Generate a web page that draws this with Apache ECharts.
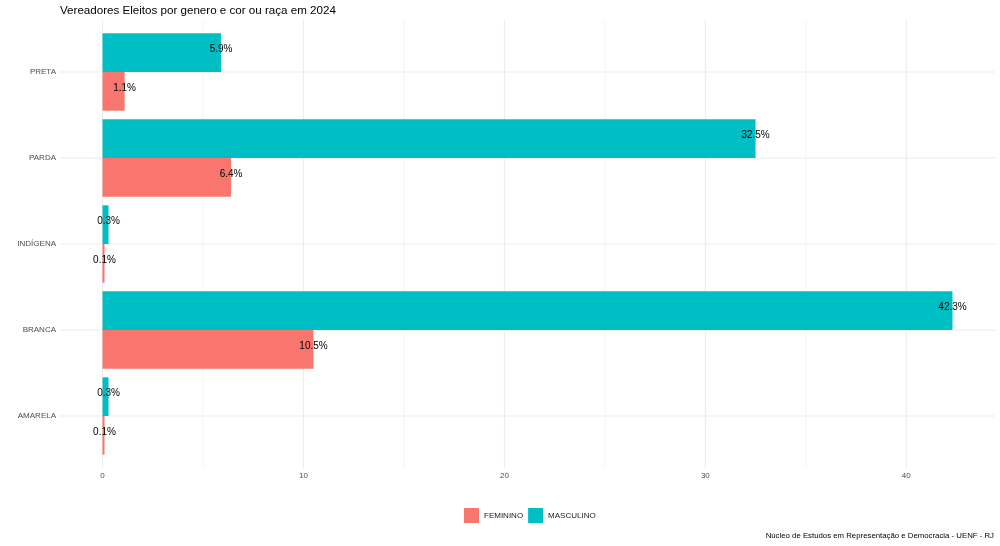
<!DOCTYPE html>
<html>
<head>
<meta charset="utf-8">
<script src="https://cdn.jsdelivr.net/npm/echarts@6/dist/echarts.min.js"></script>
<style>html,body{margin:0;padding:0;background:#fff}#c{width:1000px;height:546px}</style>
</head>
<body>
<div id="c"></div>
<script>
const titleText = 'Vereadores Eleitos por genero e cor ou raça em 2024';
const captionText = 'Núcleo de Estudos em Representação e Democracia - UENF - RJ';
const categories = ['AMARELA', 'BRANCA', 'INDÍGENA', 'PARDA', 'PRETA'];
const seriesNames = ['FEMININO', 'MASCULINO'];
const feminino = [0.1, 10.5, 0.1, 6.4, 1.1];
const masculino = [0.3, 42.3, 0.3, 32.5, 5.9];
const xTicks = [0, 10, 20, 30, 40];
const xMinorTicks = [5, 15, 25, 35];
const xMin = -2.115;
const xMax = 44.415;

const FONT = '"Liberation Sans", Arial, sans-serif';
const GRID_COLOR = '#EBEBEB';

const chart = echarts.init(document.getElementById('c'), null, {renderer: 'canvas'});

function vLine(width) {
  return function (params, api) {
    const x = api.coord([api.value(0), 0])[0];
    const cs = params.coordSys;
    return {type: 'line', silent: true,
      shape: {x1: x, y1: cs.y, x2: x, y2: cs.y + cs.height},
      style: {stroke: GRID_COLOR, lineWidth: width}};
  };
}

const labelCfg = {
  show: true, position: ['100%', '50%'], align: 'center', verticalAlign: 'middle',
  offset: [0, -3.5], fontSize: 10, fontFamily: FONT, color: '#000',
  formatter: p => p.value.toFixed(1) + '%'
};

const option = {
  animation: false,
  backgroundColor: '#fff',
  textStyle: {fontFamily: FONT},
  grid: [
    {left: 60, right: 5, top: 20, bottom: 78},
    {left: 60, right: 5, top: 29, bottom: 87}
  ],
  xAxis: [
    {type: 'value', gridIndex: 0, min: xMin, max: xMax,
      axisLine: {show: false}, axisTick: {show: false}, splitLine: {show: false},
      axisLabel: {customValues: xTicks, color: '#4D4D4D', fontSize: 8, fontFamily: FONT, margin: 4,
        formatter: v => String(v)}},
    {type: 'value', gridIndex: 1, min: xMin, max: xMax, show: false}
  ],
  yAxis: [
    {type: 'value', gridIndex: 0, min: 0, max: 1, show: false},
    {type: 'category', gridIndex: 1, data: categories,
      axisLine: {show: false}, axisTick: {show: false}, splitLine: {show: false},
      axisLabel: {color: '#4D4D4D', fontSize: 8, fontFamily: FONT, margin: 4}}
  ],
  legend: {
    data: seriesNames, left: 464, top: 508, itemWidth: 15, itemHeight: 15, itemGap: 5,
    icon: 'rect', padding: 0,
    textStyle: {fontSize: 8, fontFamily: FONT, color: '#1A1A1A'}
  },
  graphic: [
    {type: 'text', left: 60, top: 5,
      style: {text: titleText, font: '11.6px ' + FONT, fill: '#000'}},
    {type: 'text', right: 6, top: 532,
      style: {text: captionText, font: '7.8px ' + FONT, fill: '#000'}}
  ],
  series: [
    {type: 'custom', xAxisIndex: 0, yAxisIndex: 0, silent: true, z: 0,
      data: xMinorTicks.map(v => [v]), encode: {x: 0}, renderItem: vLine(0.5)},
    {type: 'custom', xAxisIndex: 0, yAxisIndex: 0, silent: true, z: 0,
      data: xTicks.map(v => [v]), encode: {x: 0}, renderItem: vLine(1)},
    {type: 'custom', xAxisIndex: 1, yAxisIndex: 1, silent: true, z: 0,
      data: categories.map(c => [0, c]), encode: {x: 0, y: 1},
      renderItem: function (params, api) {
        const y = api.coord([0, api.value(1)])[1];
        const cs = params.coordSys;
        return {type: 'line', silent: true,
          shape: {x1: cs.x, y1: y, x2: cs.x + cs.width, y2: y},
          style: {stroke: GRID_COLOR, lineWidth: 1}};
      }},
    {name: seriesNames[1], type: 'bar', xAxisIndex: 1, yAxisIndex: 1, data: masculino,
      itemStyle: {color: '#00BFC4'}, barGap: '0%', barCategoryGap: '10%', z: 2, label: labelCfg},
    {name: seriesNames[0], type: 'bar', xAxisIndex: 1, yAxisIndex: 1, data: feminino,
      itemStyle: {color: '#F8766D'}, barGap: '0%', barCategoryGap: '10%', z: 2, label: labelCfg}
  ]
};
chart.setOption(option);
</script>
</body>
</html>
